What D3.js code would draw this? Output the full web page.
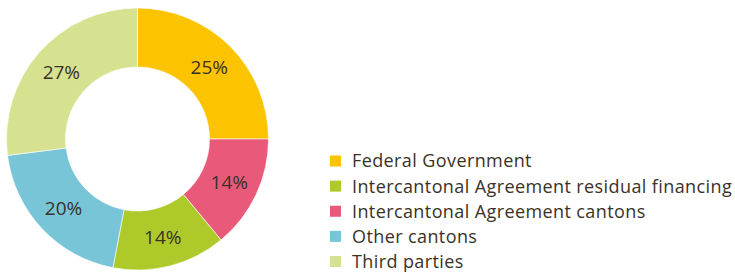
<!DOCTYPE html>
<html>
<head>
<meta charset="utf-8">
<script src="https://d3js.org/d3.v7.min.js"></script>
<style>
  body { margin: 0; background: #fff; }
  text { font-family: "Open Sans", sans-serif; fill: #3a3226; }
</style>
</head>
<body>
<svg id="chart" width="735" height="272"></svg>
<script>
// slice order clockwise from 12 o'clock
var sliceNames = ["Federal Government", "Intercantonal Agreement cantons", "Intercantonal Agreement residual financing", "Other cantons", "Third parties"];
var sliceValues = [25, 14, 14, 20, 27];
var sliceColors = ["#fbc300", "#e95a7a", "#aeca2a", "#78c5d8", "#d6e290"];

// legend order as in the picture
var legendNames = ["Federal Government", "Intercantonal Agreement residual financing", "Intercantonal Agreement cantons", "Other cantons", "Third parties"];

var svg = d3.select("#chart");
var cx = 137.5, cy = 139, rOuter = 131, rInner = 72;

var color = d3.scaleOrdinal().domain(sliceNames).range(sliceColors);

var pie = d3.pie().sort(null).value(function(d, i) { return sliceValues[i]; });
var arcs = pie(sliceNames);

var arc = d3.arc().innerRadius(rInner).outerRadius(rOuter);
var labelArc = d3.arc().innerRadius((rInner + rOuter) / 2).outerRadius((rInner + rOuter) / 2);

var g = svg.append("g").attr("transform", "translate(" + cx + "," + cy + ")");

g.selectAll("path")
  .data(arcs)
  .enter().append("path")
  .attr("d", arc)
  .attr("fill", function(d) { return color(d.data); })
  .attr("stroke", "#fff")
  .attr("stroke-width", 0.6);

g.selectAll("text.lbl")
  .data(arcs)
  .enter().append("text")
  .attr("class", "lbl")
  .attr("transform", function(d) { return "translate(" + labelArc.centroid(d) + ")"; })
  .attr("text-anchor", "middle")
  .attr("dy", "0.36em")
  .style("font-size", "19px")
  .text(function(d, i) { return sliceValues[i] + "%"; });

// legend
var legY = d3.scalePoint().domain(legendNames).range([161, 261.5]);
var leg = svg.append("g");

leg.selectAll("rect")
  .data(legendNames)
  .enter().append("rect")
  .attr("x", 330)
  .attr("y", function(d) { return legY(d) - 5.5; })
  .attr("width", 11)
  .attr("height", 11)
  .attr("fill", function(d) { return color(d); });

leg.selectAll("text")
  .data(legendNames)
  .enter().append("text")
  .attr("x", 352)
  .attr("y", function(d) { return legY(d); })
  .attr("dy", "0.36em")
  .style("font-size", "18px")
  .style("letter-spacing", "0.4px")
  .text(function(d) { return d; });
</script>
</body>
</html>
